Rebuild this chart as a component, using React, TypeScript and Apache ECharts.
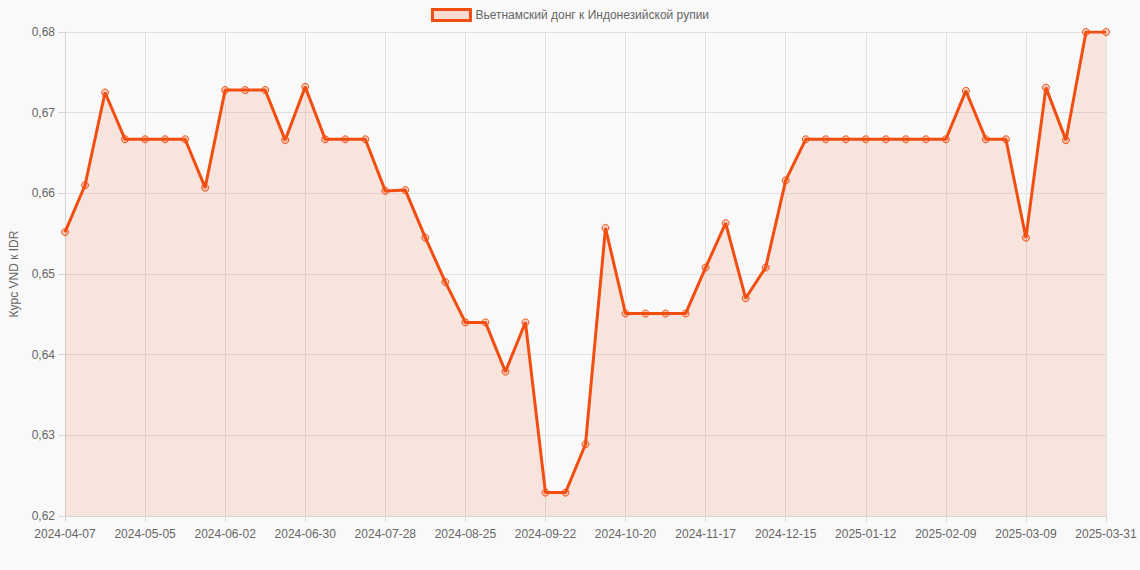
import { useEffect, useRef } from "react";
import * as echarts from "echarts";

// weekly quotes, VND -> IDR
const DATES = [
  "2024-04-07", "2024-04-14", "2024-04-21", "2024-04-28",
  "2024-05-05", "2024-05-12", "2024-05-19", "2024-05-26",
  "2024-06-02", "2024-06-09", "2024-06-16", "2024-06-23",
  "2024-06-30", "2024-07-07", "2024-07-14", "2024-07-21",
  "2024-07-28", "2024-08-04", "2024-08-11", "2024-08-18",
  "2024-08-25", "2024-09-01", "2024-09-08", "2024-09-15",
  "2024-09-22", "2024-09-29", "2024-10-06", "2024-10-13",
  "2024-10-20", "2024-10-27", "2024-11-03", "2024-11-10",
  "2024-11-17", "2024-11-24", "2024-12-01", "2024-12-08",
  "2024-12-15", "2024-12-22", "2024-12-29", "2025-01-05",
  "2025-01-12", "2025-01-19", "2025-01-26", "2025-02-02",
  "2025-02-09", "2025-02-16", "2025-02-23", "2025-03-02",
  "2025-03-09", "2025-03-16", "2025-03-23", "2025-03-30",
  "2025-03-31",
];

const RATES = [
  0.6552, 0.661, 0.6725, 0.6667, 0.6667, 0.6667, 0.6667, 0.6607,
  0.6728, 0.6728, 0.6728, 0.6666, 0.6732, 0.6667, 0.6667, 0.6667,
  0.6603, 0.6604, 0.6545, 0.649, 0.644, 0.644, 0.6379, 0.644,
  0.6229, 0.6229, 0.6289, 0.6557, 0.6451, 0.6451, 0.6451, 0.6451,
  0.6508, 0.6563, 0.647, 0.6508, 0.6616, 0.6667, 0.6667, 0.6667,
  0.6667, 0.6667, 0.6667, 0.6667, 0.6667, 0.6727, 0.6667, 0.6667,
  0.6545, 0.6731, 0.6666, 0.68, 0.68,
];

const SERIES_NAME = "Вьетнамский донг к Индонезийской рупии";
const Y_NAME = "Курс VND к IDR";

const LINE = "#f24e12";
const FILL = "rgba(242, 78, 18, 0.17)";
const TEXT = "#666";
const FONT = "'Liberation Sans', Arial, sans-serif";

export default function App() {
  const chartRef = useRef<HTMLDivElement>(null);

  useEffect(() => {
    document.body.style.margin = "0";
    document.body.style.background = "#f9f9f9";
    if (!chartRef.current) return;
    const chart = echarts.init(chartRef.current, null, { renderer: "svg" });

    chart.setOption({
      animation: false,
      backgroundColor: "#f9f9f9",
      textStyle: { fontFamily: FONT },
      legend: {
        top: 3,
        left: "center",
        itemWidth: 38,
        itemHeight: 11,
        itemGap: 10,
        textStyle: { color: TEXT, fontSize: 12, fontFamily: FONT },
        data: [
          {
            name: SERIES_NAME,
            icon: "rect",
            itemStyle: { color: FILL, borderColor: LINE, borderWidth: 3 },
          },
        ],
      },
      grid: { left: 61, right: 34, top: 32, bottom: 54, containLabel: false },
      xAxis: {
        type: "category",
        data: DATES,
        boundaryGap: false,
        axisLine: { lineStyle: { color: "#d6d6d6" } },
        axisTick: { interval: 3, length: 6, lineStyle: { color: "#d6d6d6" } },
        axisLabel: { interval: 3, color: TEXT, fontSize: 12, margin: 12, fontFamily: FONT },
        splitLine: { show: true, interval: 3, lineStyle: { color: "#e2e2e2" } },
      },
      yAxis: {
        type: "value",
        min: 0.62,
        max: 0.68,
        interval: 0.01,
        name: Y_NAME,
        nameLocation: "middle",
        nameGap: 45,
        nameTextStyle: { color: TEXT, fontSize: 12, fontFamily: FONT },
        axisLine: { show: true, lineStyle: { color: "#d6d6d6" } },
        axisTick: { show: true, length: 7, lineStyle: { color: "#d6d6d6" } },
        axisLabel: {
          color: TEXT,
          fontSize: 12,
          margin: 10,
          fontFamily: FONT,
          formatter: (v: number) => v.toFixed(2).replace(".", ","),
        },
        splitLine: { lineStyle: { color: "#e2e2e2" } },
      },
      series: [
        {
          name: SERIES_NAME,
          type: "line",
          data: RATES,
          symbol: "circle",
          symbolSize: 7,
          showAllSymbol: true,
          lineStyle: { color: LINE, width: 3 },
          itemStyle: { color: "rgba(242, 78, 18, 0.25)", borderColor: LINE, borderWidth: 1 },
          areaStyle: { color: FILL, origin: "start" },
        },
      ],
    });

    return () => chart.dispose();
  }, []);

  return <div ref={chartRef} style={{ width: 1140, height: 570 }} />;
}
